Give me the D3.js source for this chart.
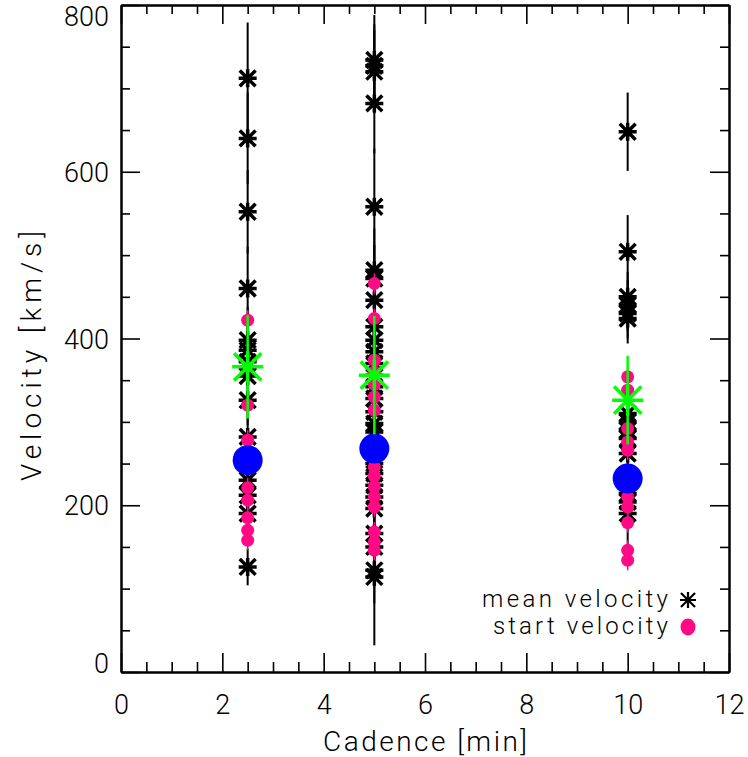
<!DOCTYPE html>
<html>
<head>
<meta charset="utf-8">
<script src="https://cdn.jsdelivr.net/npm/d3@7"></script>
<style>
  html, body { margin: 0; padding: 0; background: #fff; }
  svg { display: block; }
  text { font-family: Roboto, Lato, "Open Sans", "DejaVu Sans", sans-serif; font-weight: 300; fill: #000; }
</style>
</head>
<body>
<svg id="chart" width="748" height="757"></svg>
<script>
// Cadence values (minutes) and their velocity samples (km/s)
const cadences = [2.5, 5, 10];

// Mean velocities with their uncertainties, one list per cadence
const meanVel_2p5 = [712, 640, 552, 460, 398, 386, 372, 355, 326, 282, 230, 212, 190, 126];
const meanErr_2p5 = [67, 55, 50, 50, 40, 35, 30, 30, 30, 30, 30, 25, 25, 22];
const meanVel_5 = [734, 727, 720, 682, 558, 482, 472, 446, 414, 398, 384, 370, 356, 342, 328, 312, 298, 288, 250, 238, 224, 210, 196, 166, 150, 122, 114];
const meanErr_5 = [54, 50, 50, 60, 70, 50, 40, 40, 35, 35, 30, 30, 30, 30, 30, 30, 30, 30, 30, 30, 30, 30, 30, 30, 30, 40, 82];
const meanVel_10 = [648, 504, 450, 440, 430, 424, 310, 300, 290, 280, 262, 214, 204, 190];
const meanErr_10 = [47, 44, 30, 30, 30, 30, 30, 30, 30, 30, 30, 30, 30, 60];

// Start velocities, one list per cadence
const startVel_2p5 = [422, 320, 278, 221, 206, 185, 170, 158];
const startVel_5 = [466, 424, 374, 360, 345, 330, 314, 246, 235, 222, 210, 198, 168, 156, 146];
const startVel_10 = [354, 338, 292, 276, 266, 210, 198, 179, 146, 134];
const startErr = 12;

// Averages per cadence
const avgMean = [366, 356, 326];
const avgMeanErr = [62, 71, 53];
const avgStart = [254, 268, 232];

// Axis ticks
const xMajor = [0, 2, 4, 6, 8, 10, 12];
const yMajor = [0, 200, 400, 600, 800];
const xLabel = "Cadence [min]";
const yLabel = "Velocity [km/s]";
const legendLabels = ["mean velocity", "start velocity"];

const colors = { mean: "#000000", start: "#ff0a84", avgMean: "#00ff00", avgStart: "#0000ff" };

(function draw() {
  const meanGroups = [
    { c: cadences[0], v: meanVel_2p5, e: meanErr_2p5 },
    { c: cadences[1], v: meanVel_5, e: meanErr_5 },
    { c: cadences[2], v: meanVel_10, e: meanErr_10 }
  ];
  const startGroups = [
    { c: cadences[0], v: startVel_2p5 },
    { c: cadences[1], v: startVel_5 },
    { c: cadences[2], v: startVel_10 }
  ];
  const meanPts = meanGroups.flatMap(g => g.v.map((v, i) => ({ c: g.c, v, e: g.e[i] })));
  const startPts = startGroups.flatMap(g => g.v.map(v => ({ c: g.c, v, e: startErr })));
  const avgPts = cadences.map((c, i) => ({ c, m: avgMean[i], me: avgMeanErr[i], s: avgStart[i] }));

  const svg = d3.select("#chart");
  const pLeft = 121, pRight = 729, pTop = 5, pBottom = 672;
  const x = d3.scaleLinear().domain([0, 12]).range([pLeft, pRight]);
  const y = d3.scaleLinear().domain([0, 800]).range([pBottom, pTop]);

  // IDL-style asterisk: horizontal, vertical and two diagonal strokes
  function asterisk(r) {
    const d = r * 0.88;
    return `M${-r},0L${r},0M0,${-r}L0,${r}M${-d},${-d}L${d},${d}M${-d},${d}L${d},${-d}`;
  }

  const xMinor = d3.range(0, 12.01, 0.5).filter(t => !xMajor.includes(t));
  const yMinor = d3.range(0, 800.1, 50).filter(t => !yMajor.includes(t));

  function styleAxis(g) {
    g.selectAll("path.domain").attr("stroke", "#000").attr("stroke-width", 2);
    g.selectAll(".tick line").attr("stroke", "#000").attr("stroke-width", 1.6);
    g.selectAll("text").style("font-size", "27px").attr("font-family", null).attr("fill", "#000");
  }

  // bottom axis with labels
  svg.append("g").attr("transform", `translate(0,${pBottom})`)
    .call(d3.axisBottom(x).tickValues(xMajor).tickFormat(d3.format("d")).tickSizeInner(-19).tickSizeOuter(0).tickPadding(23))
    .call(styleAxis);
  svg.append("g").attr("transform", `translate(0,${pBottom})`)
    .call(d3.axisBottom(x).tickValues(xMinor).tickFormat("").tickSizeInner(-10).tickSizeOuter(0))
    .call(styleAxis);
  // top axis
  svg.append("g").attr("transform", `translate(0,${pTop})`)
    .call(d3.axisTop(x).tickValues(xMajor).tickFormat("").tickSizeInner(-19).tickSizeOuter(0))
    .call(styleAxis);
  svg.append("g").attr("transform", `translate(0,${pTop})`)
    .call(d3.axisTop(x).tickValues(xMinor).tickFormat("").tickSizeInner(-9).tickSizeOuter(0))
    .call(styleAxis);
  // left axis with labels
  const yAxisG = svg.append("g").attr("transform", `translate(${pLeft},0)`)
    .call(d3.axisLeft(y).tickValues(yMajor).tickFormat(d3.format("d")).tickSizeInner(-19).tickSizeOuter(0).tickPadding(12))
    .call(styleAxis);
  // keep end labels inside the frame height
  yAxisG.selectAll(".tick text").attr("dy", d => d === 0 ? "0em" : d === 800 ? "0.75em" : "0.36em");
  svg.append("g").attr("transform", `translate(${pLeft},0)`)
    .call(d3.axisLeft(y).tickValues(yMinor).tickFormat("").tickSizeInner(-9).tickSizeOuter(0))
    .call(styleAxis);
  // right axis
  svg.append("g").attr("transform", `translate(${pRight},0)`)
    .call(d3.axisRight(y).tickValues(yMajor).tickFormat("").tickSizeInner(-19).tickSizeOuter(0))
    .call(styleAxis);
  svg.append("g").attr("transform", `translate(${pRight},0)`)
    .call(d3.axisRight(y).tickValues(yMinor).tickFormat("").tickSizeInner(-9).tickSizeOuter(0))
    .call(styleAxis);

  // axis titles
  svg.append("text").attr("x", (pLeft + pRight) / 2).attr("y", 751)
    .attr("text-anchor", "middle").style("font-size", "28px")
    .attr("textLength", 204).attr("lengthAdjust", "spacing").text(xLabel);
  svg.append("text").attr("transform", "translate(41,356) rotate(-90)")
    .attr("text-anchor", "middle").style("font-size", "28px")
    .attr("textLength", 250).attr("lengthAdjust", "spacing").text(yLabel);

  const plot = svg.append("g");

  // mean velocity error bars and markers
  plot.append("g").selectAll("line").data(meanPts).join("line")
    .attr("x1", d => x(d.c)).attr("x2", d => x(d.c))
    .attr("y1", d => y(d.v - d.e)).attr("y2", d => y(d.v + d.e))
    .attr("stroke", colors.mean).attr("stroke-width", 2);
  plot.append("g").selectAll("path").data(meanPts).join("path")
    .attr("transform", d => `translate(${x(d.c)},${y(d.v)})`)
    .attr("d", asterisk(9)).attr("fill", "none")
    .attr("stroke", colors.mean).attr("stroke-width", 3.5);

  // start velocity error bars and markers
  plot.append("g").selectAll("line").data(startPts).join("line")
    .attr("x1", d => x(d.c)).attr("x2", d => x(d.c))
    .attr("y1", d => y(d.v - d.e)).attr("y2", d => y(d.v + d.e))
    .attr("stroke", colors.start).attr("stroke-width", 1.5);
  plot.append("g").selectAll("circle").data(startPts).join("circle")
    .attr("cx", d => x(d.c)).attr("cy", d => y(d.v)).attr("r", 6.5)
    .attr("fill", colors.start);

  // averages: start (blue disc), mean (green asterisk with error bar)
  plot.append("g").selectAll("circle").data(avgPts).join("circle")
    .attr("cx", d => x(d.c)).attr("cy", d => y(d.s)).attr("r", 15)
    .attr("fill", colors.avgStart);
  plot.append("g").selectAll("line").data(avgPts).join("line")
    .attr("x1", d => x(d.c)).attr("x2", d => x(d.c))
    .attr("y1", d => y(d.m - d.me)).attr("y2", d => y(d.m + d.me))
    .attr("stroke", colors.avgMean).attr("stroke-width", 2.5);
  plot.append("g").selectAll("path").data(avgPts).join("path")
    .attr("transform", d => `translate(${x(d.c)},${y(d.m)})`)
    .attr("d", asterisk(15.5)).attr("fill", "none")
    .attr("stroke", colors.avgMean).attr("stroke-width", 3.5);

  // legend
  const legend = svg.append("g");
  legend.append("text").attr("x", 668).attr("y", 607).attr("text-anchor", "end")
    .style("font-size", "24px").attr("textLength", 186).attr("lengthAdjust", "spacing").text(legendLabels[0]);
  legend.append("text").attr("x", 668).attr("y", 634).attr("text-anchor", "end")
    .style("font-size", "24px").attr("textLength", 175).attr("lengthAdjust", "spacing").text(legendLabels[1]);
  legend.append("path").attr("transform", "translate(688,600)")
    .attr("d", asterisk(8)).attr("fill", "none").attr("stroke", colors.mean).attr("stroke-width", 2.2);
  legend.append("ellipse").attr("cx", 688).attr("cy", 627).attr("rx", 7.5).attr("ry", 8.5)
    .attr("fill", colors.start);
})();
</script>
</body>
</html>
